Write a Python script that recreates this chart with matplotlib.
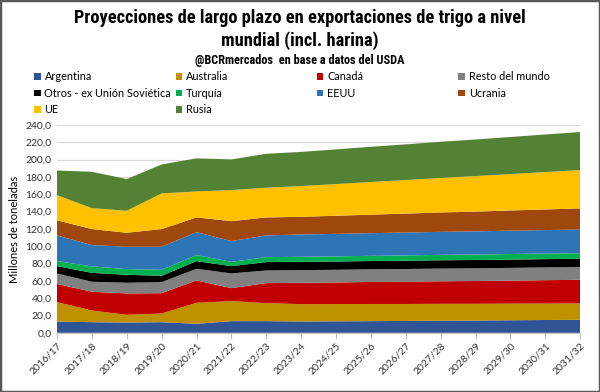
import matplotlib.pyplot as plt
from matplotlib.patches import Patch, Rectangle
from matplotlib.ticker import FuncFormatter
from matplotlib import font_manager

campaigns = [
    "2016/17", "2017/18", "2018/19", "2019/20", "2020/21", "2021/22",
    "2022/23", "2023/24", "2024/25", "2025/26", "2026/27", "2027/28",
    "2028/29", "2029/30", "2030/31", "2031/32",
]

# Exportaciones por origen (millones de toneladas), en orden de apilado
argentina = [13.0, 12.3, 11.9, 12.3, 10.4, 13.5, 13.5, 13.1, 13.3, 13.5, 13.7, 14.0, 14.2, 14.5, 14.8, 15.0]
australia = [22.5, 13.5, 8.9, 10.0, 24.3, 23.1, 20.8, 20.0, 19.9, 19.8, 19.6, 19.5, 19.3, 19.2, 19.0, 18.9]
canada = [21.0, 21.6, 24.7, 23.5, 25.8, 15.0, 23.1, 24.7, 25.0, 25.4, 25.7, 26.0, 26.3, 26.6, 27.0, 27.3]
resto = [12.0, 11.6, 12.3, 12.7, 13.5, 17.0, 14.6, 14.6, 14.6, 14.6, 14.7, 14.7, 14.7, 14.7, 14.7, 14.7]
otros_exurss = [8.5, 10.3, 9.2, 7.4, 8.8, 8.4, 9.7, 9.6, 9.6, 9.6, 9.6, 9.6, 9.6, 9.6, 9.6, 9.6]
turquia = [6.0, 7.4, 6.6, 6.9, 7.0, 5.0, 5.7, 5.8, 5.9, 6.0, 6.1, 6.2, 6.3, 6.4, 6.4, 6.5]
eeuu = [29.5, 24.6, 25.8, 26.6, 26.5, 23.9, 25.1, 25.8, 26.0, 26.2, 26.4, 26.6, 26.8, 27.0, 27.2, 27.4]
ucrania = [17.5, 18.5, 16.2, 20.4, 17.0, 23.1, 20.8, 20.4, 20.9, 21.4, 21.9, 22.4, 22.8, 23.3, 23.8, 24.3]
ue = [29.0, 24.2, 25.4, 41.2, 30.0, 35.9, 34.3, 35.5, 36.6, 37.7, 38.8, 39.9, 41.0, 42.1, 43.2, 44.3]
rusia = [28.5, 42.0, 36.6, 33.5, 38.2, 35.4, 39.2, 39.5, 40.1, 40.7, 41.2, 41.8, 42.3, 42.8, 43.4, 43.9]

series = [
    ("Argentina", argentina, "#2F5597"),
    ("Australia", australia, "#BF9000"),
    ("Canadá", canada, "#C00000"),
    ("Resto del mundo", resto, "#808080"),
    ("Otros - ex Unión Soviética", otros_exurss, "#000000"),
    ("Turquía", turquia, "#00B050"),
    ("EEUU", eeuu, "#2E75B6"),
    ("Ucrania", ucrania, "#9E480E"),
    ("UE", ue, "#FFC000"),
    ("Rusia", rusia, "#548235"),
]

installed = {f.name for f in font_manager.fontManager.ttflist}
narrow = [n for n in ("Liberation Sans Narrow", "DejaVu Sans Condensed",
                      "Roboto Condensed", "Liberation Sans") if n in installed]
title_font = narrow[:1] + ["DejaVu Sans"]
body_font = ["Lato", "DejaVu Sans"]

fig = plt.figure(figsize=(6.0, 3.92), dpi=100)
ax = fig.add_axes([0.095, 0.151, 0.872, 0.530])

x = list(range(len(campaigns)))
ax.stackplot(
    x,
    *[values for _, values, _ in series],
    colors=[color for _, _, color in series],
    linewidth=0,
    zorder=2,
)

ax.set_xlim(0, len(campaigns) - 1)
ax.set_ylim(0, 240)
ax.set_yticks(range(0, 241, 20))
ax.yaxis.set_major_formatter(FuncFormatter(lambda v, _: f"{v:.1f}".replace(".", ",")))
ax.set_xticks(x)
ax.set_xticklabels(campaigns, rotation=45, ha="right", rotation_mode="anchor",
                   fontsize=7.5, family=body_font)
for label in ax.get_yticklabels():
    label.set_fontsize(7.5)
    label.set_family(body_font)
ax.tick_params(axis="y", length=0, pad=4, colors="#333333")
ax.tick_params(axis="x", length=4, color="#bfbfbf", colors="#333333", pad=2)
ax.grid(axis="y", color="#d9d9d9", linewidth=0.8, zorder=0)
ax.set_axisbelow(True)
for side in ("top", "right", "left"):
    ax.spines[side].set_visible(False)
ax.spines["bottom"].set_color("#bfbfbf")
ax.set_ylabel("Millones de toneladas", fontsize=8, family=body_font, labelpad=4)

tsize = 13.2 if narrow and narrow[0] != "Liberation Sans" else 12
fig.text(0.5, 0.953, "Proyecciones de largo plazo en exportaciones de trigo a nivel",
         ha="center", va="center", fontsize=tsize, fontweight="bold", family=title_font)
fig.text(0.5, 0.897, "mundial (incl. harina)",
         ha="center", va="center", fontsize=tsize, fontweight="bold", family=title_font)
fig.text(0.5, 0.845, "@BCRmercados  en base a datos del USDA",
         ha="center", va="center", fontsize=8.8 * tsize / 13.2, fontweight="bold",
         family=title_font)

# legend laid out row by row, one legend per column to keep fixed spacing
columns = [[0, 4, 8], [1, 5, 9], [2, 6], [3, 7]]
col_x = [0.057, 0.293, 0.528, 0.764]
for idx, cx in zip(columns, col_x):
    handles = [Patch(facecolor=series[i][2], label=series[i][0]) for i in idx]
    fig.legend(
        handles=handles,
        loc="upper left",
        bbox_to_anchor=(cx, 0.818),
        frameon=False,
        prop={"family": body_font, "size": 7.8},
        handlelength=0.6,
        handleheight=0.6,
        handletextpad=0.35,
        labelspacing=0.5,
        borderaxespad=0,
        borderpad=0,
    )

fig.patches.append(Rectangle((0, 0), 1, 1, transform=fig.transFigure, fill=False,
                             edgecolor="#595959", linewidth=2.5))

fig.savefig("out.png", dpi=100)
